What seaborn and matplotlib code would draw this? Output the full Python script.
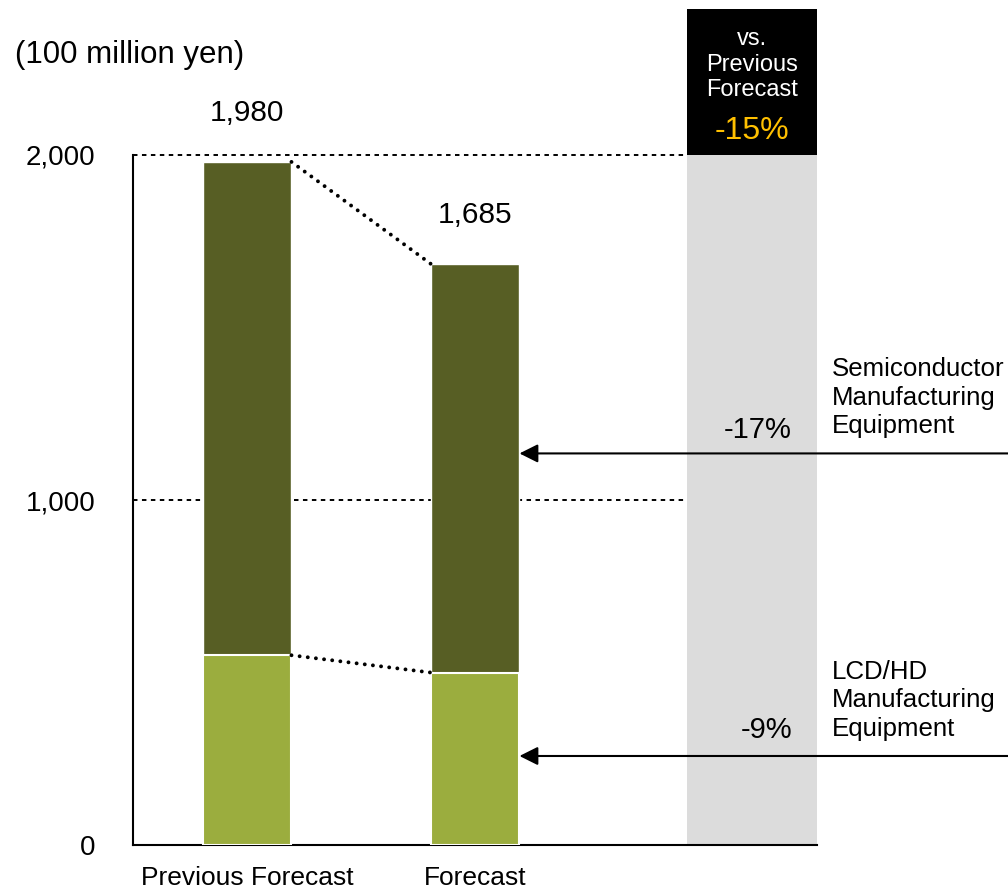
import matplotlib
matplotlib.use("Agg")
import matplotlib.pyplot as plt
import matplotlib.transforms as mtransforms
from matplotlib.patches import Rectangle
import seaborn as sns

# ---- data ----
categories = ["Previous Forecast", "Forecast"]
semiconductor = [1430, 1185]
lcd_hd = [550, 500]
totals = [a + b for a, b in zip(semiconductor, lcd_hd)]
change_semi = "-17%"
change_lcd = "-9%"
change_total = "-15%"
unit_label = "(100 million yen)"
yticks = [0, 1000, 2000]
ytick_labels = ["0", "1,000", "2,000"]
semi_label = "Semiconductor\nManufacturing\nEquipment"
lcd_label = "LCD/HD\nManufacturing\nEquipment"
box_label = "vs.\nPrevious\nForecast"

dark = "#575E24"
light = "#9BAD3E"
gray = "#DCDCDC"
gold = "#FFC000"

sns.set_style("white")
plt.rcParams["font.family"] = ["Liberation Sans", "DejaVu Sans"]
plt.rcParams["text.color"] = "black"
plt.rcParams["xtick.color"] = "black"
plt.rcParams["ytick.color"] = "black"

fig = plt.figure(figsize=(10.08, 8.93), dpi=100)
ax = fig.add_axes([133 / 1008, 48 / 893, 684 / 1008, 690 / 893])

# gray comparison band
band_x0, band_x1 = 1.93, 2.5
ax.axvspan(band_x0, band_x1, color=gray, zorder=0, lw=0)

# stacked bars
sns.barplot(x=categories, y=totals, color=dark, width=0.39, saturation=1,
            errorbar=None, ax=ax, zorder=2)
sns.barplot(x=categories, y=lcd_hd, color=light, width=0.39, saturation=1,
            errorbar=None, ax=ax, zorder=3, edgecolor="white", linewidth=1.5)

ax.set_xlim(-0.5, 2.5)
ax.set_ylim(0, 2000)

# dashed gridlines
ax.hlines([1000, 2000], -0.5, band_x0, colors="black", lw=1.4,
          linestyles=[(0, (2.3, 2.3))], zorder=1, clip_on=False)

# dotted connectors
hw = 0.39 / 2
for pair in (totals, lcd_hd):
    ax.plot([0 + hw, 1 - hw], [pair[0], pair[1]], color="black", lw=2.8,
            linestyle=(0, (0.01, 2.1)), dash_capstyle="round", zorder=4)

# total labels
for i, v in enumerate(totals):
    ax.annotate(f"{v:,}", xy=(i, v), xytext=(0, 35), textcoords="offset points",
                ha="center", va="center", fontsize=21.5)

# arrows
for yv in (1135, 258):
    ax.annotate("", xy=(1 + hw, yv), xytext=(3.4, yv), xycoords="data",
                annotation_clip=False,
                arrowprops=dict(arrowstyle="-|>", lw=1.5, color="black",
                                mutation_scale=28, shrinkA=0, shrinkB=0))

# percent labels and segment names
ax.text(2.39, 1203, change_semi, ha="right", va="center", fontsize=21)
ax.text(2.39, 333, change_lcd, ha="right", va="center", fontsize=21)
ax.text(2.566, 1296, semi_label, ha="left", va="center", fontsize=18.6,
        linespacing=1.24, clip_on=False)
ax.text(2.566, 420, lcd_label, ha="left", va="center", fontsize=18.6,
        linespacing=1.24, clip_on=False)

# black header box
trans = mtransforms.blended_transform_factory(ax.transData, ax.transAxes)
ax.add_patch(Rectangle((band_x0, 1.0), band_x1 - band_x0, 0.2116, transform=trans,
                       facecolor="black", edgecolor="none", clip_on=False, zorder=5))
xc = (band_x0 + band_x1) / 2
ax.text(xc, 1.131, box_label, transform=trans, ha="center", va="center",
        color="white", fontsize=17, linespacing=1.2, zorder=6)
ax.text(xc, 1.0348, change_total, transform=trans, ha="center", va="center",
        color=gold, fontsize=23, zorder=6)

# unit label
fig.text(15 / 1008, 1 - 55 / 893, unit_label, ha="left", va="center", fontsize=22.5)

# axes styling
for s in ("top", "right"):
    ax.spines[s].set_visible(False)
for s in ("left", "bottom"):
    ax.spines[s].set_color("black")
    ax.spines[s].set_linewidth(1.5)

ax.set_yticks(yticks)
ax.set_yticklabels(ytick_labels, fontsize=20)
ax.tick_params(axis="y", length=0, pad=27)
ax.set_xticks([0, 1, 2])
ax.set_xticklabels(categories + [""], fontsize=19)
ax.tick_params(axis="x", which="major", length=0, pad=15)
ax.set_xticks([0.5, 1.5], minor=True)
ax.tick_params(axis="x", which="minor", direction="in", length=5, width=1.2,
               color="black")
ax.set_xlabel("")
ax.set_ylabel("")

fig.savefig("out.png", dpi=100)
